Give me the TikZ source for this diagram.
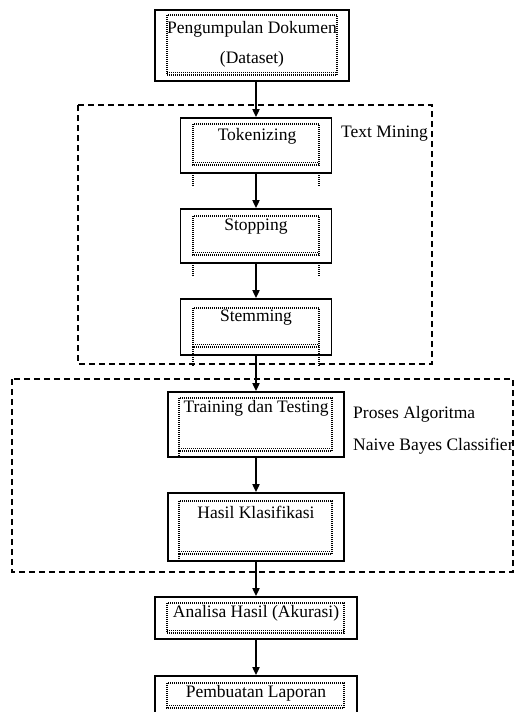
\documentclass[tikz,border=0pt]{standalone}
\usepackage{fontspec}
\setmainfont{Liberation Serif}
\usetikzlibrary{arrows.meta}
\begin{document}
\begin{tikzpicture}[x=1pt,y=-1pt,
  outerbox/.style={draw=black, line width=1.7pt, rectangle, inner sep=0pt},
  lbl/.style={inner sep=0pt, font=\fontsize{17.5}{20}\selectfont, text=black},
  arr/.style={draw=black, line width=1.7pt, -{Triangle[length=8pt,width=7pt]}},
  grp/.style={draw=black, line width=1.2pt, dash pattern=on 6pt off 4pt},
  dots/.style={draw=black, line width=1.1pt, dash pattern=on 1pt off 1pt}]
\useasboundingbox (0,0) rectangle (515,712);
% group boxes
\draw[grp] (78,105) rectangle (432,364);
\draw[grp] (12,379) rectangle (513,572);
% main boxes
\node[outerbox, minimum width=194pt, minimum height=71pt] (b1) at (252,45.5) {};
\node[outerbox, minimum width=151pt, minimum height=55pt] (tok) at (256,145.5) {};
\node[outerbox, minimum width=151pt, minimum height=54pt] (stop) at (256,236) {};
\node[outerbox, minimum width=151pt, minimum height=56pt] (stem) at (256,327) {};
\node[outerbox, minimum width=176pt, minimum height=65pt] (train) at (256,424.5) {};
\node[outerbox, minimum width=176pt, minimum height=68pt] (hasil) at (256,527) {};
\node[outerbox, minimum width=202pt, minimum height=42pt] (anal) at (256,618) {};
\node[outerbox, minimum width=202pt, minimum height=54pt] (pemb) at (256,703) {};
% inner dotted frames
\draw[dots] (167,15) rectangle (337,75); \draw[dots] (167,72.5) -- (337,72.5);
\draw[dots] (193,124) rectangle (319,165); \draw[dots] (193,162.5) -- (319,162.5);
\draw[dots] (193,173) -- (193,186); \draw[dots] (319,173) -- (319,186);
\draw[dots] (193,216) rectangle (319,255); \draw[dots] (193,252.5) -- (319,252.5);
\draw[dots] (193,263) -- (193,277); \draw[dots] (319,263) -- (319,277);
\draw[dots] (193,308) rectangle (319,347); \draw[dots] (193,344.5) -- (319,344.5);
\draw[dots] (193,347) -- (193,366); \draw[dots] (319,347) -- (319,366);
\draw[dots] (179,398) rectangle (332,451); \draw[dots] (179,448.5) -- (332,448.5);
\draw[dots] (179,451) -- (179,458);
\draw[dots] (179,501) rectangle (332,554); \draw[dots] (179,551.5) -- (332,551.5);
\draw[dots] (179,554) -- (179,561);
\draw[dots] (167,603) rectangle (344,633); \draw[dots] (167,630.5) -- (344,630.5);
\draw[dots] (167,683) rectangle (344,708); \draw[dots] (167,705.5) -- (344,705.5);
% texts
\node[lbl] (t1a) at (252,29) {Pengumpulan Dokumen};
\node[lbl] (t1b) at (252,59) {(Dataset)};
\node[lbl] (t2) at (257,136) {Tokenizing};
\node[lbl] (t3) at (256,227) {Stopping};
\node[lbl] (t4) at (256,318) {Stemming};
\node[lbl] (t5) at (256,408) {Training dan Testing};
\node[lbl] (t6) at (256,512) {Hasil Klasifikasi};
\node[lbl] (t7) at (256,613) {Analisa Hasil (Akurasi)};
\node[lbl] (t8) at (256,693) {Pembuatan Laporan};
\node[lbl, anchor=west] (gl1) at (341,134) {Text Mining};
\node[lbl, anchor=west] (gl2) at (353,414) {Proses Algoritma};
\node[lbl, anchor=west] (gl3) at (353,446) {Naive Bayes Classifier};
% arrows
\draw[arr] (b1.south -| tok.north) -- (tok.north);
\draw[arr] (tok.south) -- (stop.north);
\draw[arr] (stop.south) -- (stem.north);
\draw[arr] (stem.south) -- (stem.south |- train.north);
\draw[arr] (train.south) -- (hasil.north);
\draw[arr] (hasil.south) -- (anal.north);
\draw[arr] (anal.south) -- (pemb.north);
\end{tikzpicture}
\end{document}
